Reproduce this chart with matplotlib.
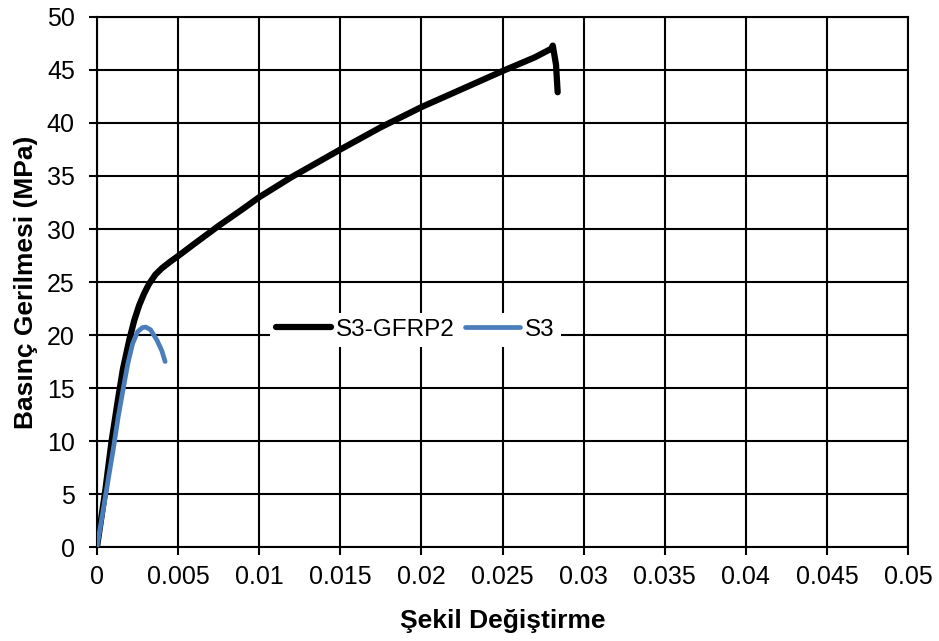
import matplotlib
matplotlib.use("Agg")
import matplotlib.pyplot as plt

plt.rcParams['font.family'] = ['Liberation Sans', 'DejaVu Sans']

# S3-GFRP2 (wrapped specimen)
gfrp_strain = [0.0, 0.0005, 0.0009, 0.0013, 0.0016, 0.0020, 0.0023, 0.0026, 0.0029,
               0.0032, 0.0036, 0.0040, 0.0045, 0.0050, 0.0060, 0.0075, 0.0090,
               0.0100, 0.0120, 0.0150, 0.0175, 0.0200, 0.0225, 0.0250, 0.0270,
               0.0280, 0.0281, 0.0283, 0.0284]
gfrp_stress = [0.0, 5.2, 10.0, 14.0, 16.8, 19.6, 21.4, 22.8, 23.9,
               24.8, 25.7, 26.3, 26.9, 27.45, 28.6, 30.3, 31.9,
               33.0, 34.9, 37.5, 39.6, 41.5, 43.2, 44.9, 46.2,
               47.0, 47.3, 45.5, 42.9]

# S3 (reference specimen)
s3_strain = [0.0, 0.0005, 0.0010, 0.0013, 0.0016, 0.0019, 0.0022, 0.0025,
             0.0028, 0.0030, 0.0033, 0.0037, 0.0040, 0.0042]
s3_stress = [0.0, 4.6, 9.2, 12.2, 14.8, 17.3, 19.2, 20.3,
             20.7, 20.75, 20.5, 19.5, 18.5, 17.5]

x_ticks = [0, 0.005, 0.01, 0.015, 0.02, 0.025, 0.03, 0.035, 0.04, 0.045, 0.05]
x_tick_labels = ['0', '0.005', '0.01', '0.015', '0.02', '0.025', '0.03', '0.035',
                 '0.04', '0.045', '0.05']
y_ticks = [0, 5, 10, 15, 20, 25, 30, 35, 40, 45, 50]

fig = plt.figure(figsize=(9.39, 6.41), dpi=100)
ax = fig.add_axes([0.1033, 0.1466, 0.8637, 0.8269])

ax.plot(gfrp_strain, gfrp_stress, color='black', lw=4.5, solid_capstyle='round',
        solid_joinstyle='round', label='S3-GFRP2', zorder=3)
ax.plot(s3_strain, s3_stress, color='#4a7ebb', lw=3.4, solid_capstyle='round',
        solid_joinstyle='round', label='S3', zorder=4)

ax.set_xlim(0, 0.05)
ax.set_ylim(0, 50)
ax.set_xticks(x_ticks)
ax.set_xticklabels(x_tick_labels)
ax.set_yticks(y_ticks)
ax.grid(True, color='black', lw=1.5)
ax.set_axisbelow(True)
for s in ax.spines.values():
    s.set_color('black')
    s.set_linewidth(1.5)
ax.tick_params(axis='both', labelsize=18, length=6, width=1.5, color='black')
ax.tick_params(axis='x', pad=7)
ax.tick_params(axis='y', pad=10)

ax.set_xlabel('Şekil Değiştirme', fontsize=19, fontweight='bold', labelpad=14)
ax.set_ylabel('Basınç Gerilmesi (MPa)', fontsize=19, fontweight='bold', labelpad=6)

leg = ax.legend(loc='center left', bbox_to_anchor=(0.213, 0.41), ncol=2, frameon=True,
                fontsize=17.5, handlelength=2.26, columnspacing=0.45, handletextpad=0.2,
                borderpad=0.25, borderaxespad=0.0)
leg.get_frame().set_facecolor('white')
leg.get_frame().set_edgecolor('none')
leg.get_frame().set_alpha(1.0)
leg.get_frame().set_boxstyle('square', pad=0.0)

fig.savefig('out.png', dpi=100)
